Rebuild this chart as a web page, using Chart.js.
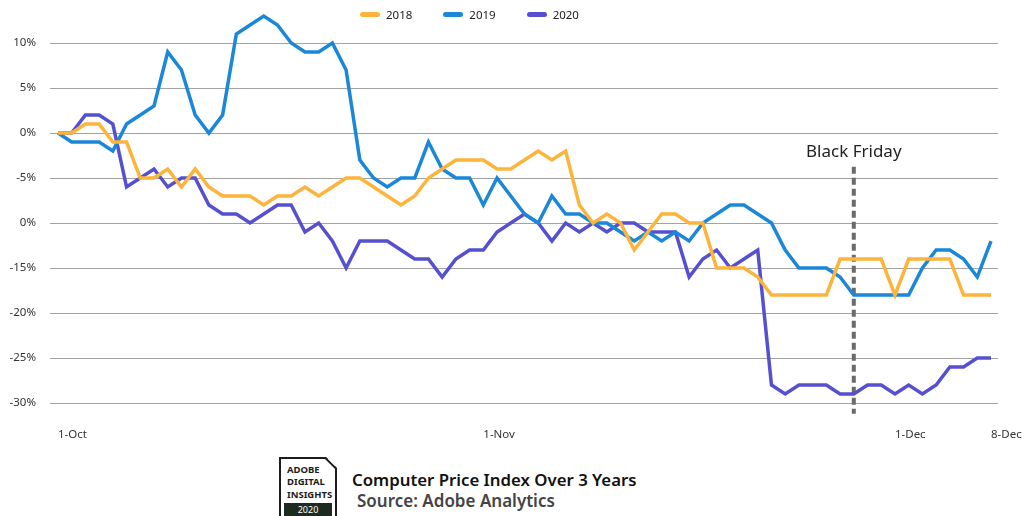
<!DOCTYPE html>
<html>
<head>
<meta charset="utf-8">
<script src="https://cdn.jsdelivr.net/npm/chart.js@4/dist/chart.umd.min.js"></script>
<style>
  body { margin: 0; background: #fff; font-family: 'Noto Sans', sans-serif; }
  #wrap { position: relative; width: 1033px; height: 516px; overflow: hidden; }
  #chart { position: absolute; left: 0; top: 0; }
  #legend { position: absolute; left: 360px; top: 7px; display: flex; font-size: 11.5px; color: #222; }
  #legend .item { display: flex; align-items: center; margin-right: 31px; }
  #legend .sw { width: 20px; height: 5px; border-radius: 3px; margin-right: 6px; }
  #logo { position: absolute; left: 279px; top: 457px; width: 54px; height: 62px; border: 2px solid #1c1c1c;
          clip-path: polygon(0 0, 47px 0, 58px 11px, 58px 100%, 0 100%); }
  #logo .corner { position: absolute; right: -3px; top: 3px; width: 15px; height: 2px; background: #1c1c1c; transform: rotate(45deg); }
  #logo .txt { position: absolute; left: 6px; top: 5px; font-weight: 700; font-size: 9.5px; line-height: 12.3px; color: #1c1c1c; }
  #logo .yr { position: absolute; left: 3px; top: 44px; width: 48px; height: 15px; background: #1c2a20; color: #fff;
              font-size: 9px; line-height: 13px; text-align: center; }
  #title { position: absolute; left: 352px; top: 472px; font-size: 16.8px; font-weight: 600; line-height: 16px; color: #111; }
  #source { position: absolute; left: 357px; top: 493px; font-size: 17px; font-weight: 600; line-height: 16px; color: #444; }
</style>
</head>
<body>
<div id="wrap">
  <canvas id="chart" width="1033" height="450"></canvas>
  <div id="legend"></div>
  <div id="logo"><div class="corner"></div><div class="txt">ADOBE<br>DIGITAL<br>INSIGHTS</div><div class="yr">2020</div></div>
  <div id="title">Computer Price Index Over 3 Years</div>
  <div id="source">Source: Adobe Analytics</div>
</div>
<script>
// one value per day, 1-Oct (day 0) to 8-Dec (day 68), % change
const y2018 = [0,0,1,1,-1,-1,-5,-5,-4,-6, -4,-6,-7,-7,-7,-8,-7,-7,-6,-7,
  -6,-5,-5,-6,-7,-8,-7,-5,-4,-3, -3,-3,-4,-4,-3,-2,-3,-2,-8,-10,
  -9,-10,-13,-11,-9,-9,-10,-10,-15,-15, -15,-16,-18,-18,-18,-18,-18,-14,-14,-14,
  -14,-18,-14,-14,-14,-14,-18,-18,-18];
const y2019 = [0,-1,-1,-1,-2,1,2,3,9,7, 2,0,2,11,12,13,12,10,9,9,
  10,7,-3,-5,-6,-5,-5,-1,-4,-5, -5,-8,-5,-7,-9,-10,-7,-9,-9,-10,
  -10,-11,-12,-11,-12,-11,-12,-10,-9,-8, -8,-9,-10,-13,-15,-15,-15,-16,-18,-18,
  -18,-18,-18,-15,-13,-13,-14,-16,-12];
const y2020 = [0,0,2,2,1,-6,-5,-4,-6,-5, -5,-8,-9,-9,-10,-9,-8,-8,-11,-10,
  -12,-15,-12,-12,-12,-13,-14,-14,-16,-14, -13,-13,-11,-10,-9,-10,-12,-10,-11,-10,
  -11,-10,-10,-11,-11,-11,-16,-14,-13,-15, -14,-13,-28,-29,-28,-28,-28,-29,-29,-28,
  -28,-29,-28,-29,-28,-26,-26,-25,-25];

const tickDays = [0, 31, 61, 68];
const tickLabels = ['1-Oct', '1-Nov', '1-Dec', '8-Dec'];
const yTickValues = [10, 5, 0, -5, -10, -15, -20, -25, -30];
const yTickLabels = ['10%', '5%', '0%', '-5%', '0%', '-15%', '-20%', '-25%', '-30%'];

const blackFridayDay = 58;
const blackFridayTop = -3.75;
const blackFridayBottom = -31.2;

const toPoints = arr => arr.map((v, i) => ({ x: i, y: v }));

Chart.defaults.font.family = "'Noto Sans', sans-serif";
Chart.defaults.color = '#333';

const line = (label, data, color) => ({
  label: label,
  data: toPoints(data),
  borderColor: color,
  backgroundColor: color,
  borderWidth: 3.5,
  pointRadius: 0,
  tension: 0,
  fill: false
});

// text above the dashed marker
const bfLabel = {
  id: 'bfLabel',
  afterDatasetsDraw(chart) {
    const { ctx, scales } = chart;
    ctx.save();
    ctx.font = "17px 'Noto Sans', sans-serif";
    ctx.fillStyle = '#222';
    ctx.textAlign = 'center';
    ctx.textBaseline = 'alphabetic';
    ctx.fillText('Black Friday', scales.x.getPixelForValue(blackFridayDay), scales.y.getPixelForValue(-2.7));
    ctx.restore();
  }
};

const chart = new Chart(document.getElementById('chart'), {
  type: 'line',
  data: {
    datasets: [
      line('2018', y2018, '#fdb43a'),
      line('2019', y2019, '#1a87d9'),
      line('2020', y2020, '#5550cf'),
      {
        label: 'Black Friday',
        data: [{ x: blackFridayDay, y: blackFridayTop }, { x: blackFridayDay, y: blackFridayBottom }],
        borderColor: '#6b6b6b',
        borderWidth: 4,
        borderDash: [7, 4],
        pointRadius: 0,
        marker: true
      }
    ]
  },
  options: {
    responsive: false,
    animation: false,
    layout: { padding: { top: 10, right: 35, left: 0, bottom: 0 } },
    plugins: {
      legend: { display: false },
      tooltip: { enabled: false }
    },
    scales: {
      x: {
        type: 'linear',
        min: -0.58,
        max: 68.51,
        grid: { display: false, drawTicks: false },
        border: { display: false },
        afterBuildTicks: s => { s.ticks = tickDays.map(v => ({ value: v })); },
        afterFit: s => { s.height = 36; s.paddingLeft = 0; s.paddingRight = 0; },
        ticks: {
          align: 'start',
          padding: 14,
          autoSkip: false,
          maxRotation: 0,
          font: { size: 11.5 },
          callback: v => tickLabels[tickDays.indexOf(v)]
        }
      },
      y: {
        min: -31.222,
        max: 13.667,
        grid: { color: '#a3a3a3', lineWidth: 1, drawTicks: false },
        border: { display: false },
        afterBuildTicks: s => { s.ticks = yTickValues.map(v => ({ value: v })); },
        afterFit: s => { s.width = 50; s.paddingTop = 0; s.paddingBottom = 0; },
        ticks: {
          padding: 14,
          font: { size: 11.5 },
          callback: v => yTickLabels[yTickValues.indexOf(v)]
        }
      }
    }
  },
  plugins: [bfLabel]
});

// legend built from the chart's own datasets
const legendEl = document.getElementById('legend');
chart.data.datasets.filter(d => !d.marker).forEach(d => {
  const item = document.createElement('div');
  item.className = 'item';
  item.innerHTML = '<span class="sw" style="background:' + d.borderColor + '"></span>' + d.label;
  legendEl.appendChild(item);
});
</script>
</body>
</html>
